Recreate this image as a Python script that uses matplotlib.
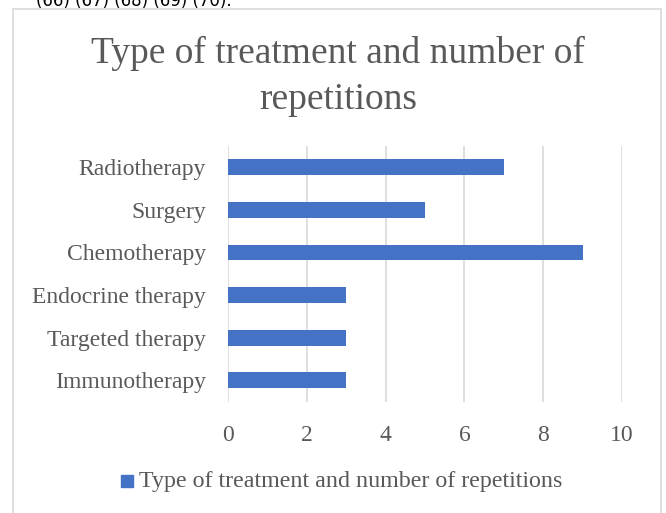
import matplotlib.pyplot as plt
from matplotlib.patches import Rectangle

# data
categories = ['Immunotherapy', 'Targeted therapy', 'Endocrine therapy',
              'Chemotherapy', 'Surgery', 'Radiotherapy']
repetitions = [3, 3, 3, 9, 5, 7]
x_ticks = [0, 2, 4, 6, 8, 10]
series_name = 'Type of treatment and number of repetitions'
title_lines = ['Type of treatment and number of', 'repetitions']

W, H = 666, 513
fig = plt.figure(figsize=(W / 100, H / 100), dpi=100)
fig.patch.set_facecolor('white')

# frame of the embedded chart
fig.add_artist(Rectangle((12.5 / W, -0.05), (661 - 12.5) / W, 1.05 - 8.5 / H,
                         transform=fig.transFigure, fill=False,
                         edgecolor='#d9d9d9', linewidth=1.2))

# cut-off text from the page above
fig.text(232 / W, 1 - 1 / H, '(66) (67) (68) (69) (70).', ha='right', va='center',
         fontsize=12, family='DejaVu Sans', color='black')

ax = fig.add_axes([228 / W, 1 - 401.5 / H, (622 - 228) / W, (401.5 - 146) / H])
ax.barh(range(len(categories)), repetitions, height=0.37, color='#4472C4', zorder=3)

ax.set_xlim(0, 10)
ax.set_ylim(-0.5, len(categories) - 0.5)
ax.set_xticks(x_ticks)
ax.set_xticklabels([str(t) for t in x_ticks])
ax.set_yticks(range(len(categories)))
ax.set_yticklabels(categories)
ax.grid(axis='x', color='#d9d9d9', linewidth=1.2, zorder=0)
for s in ax.spines.values():
    s.set_visible(False)
ax.tick_params(length=0, labelsize=17, labelcolor='#595959')
ax.tick_params(axis='x', pad=17)
ax.tick_params(axis='y', pad=16)
for lbl in ax.get_xticklabels() + ax.get_yticklabels():
    lbl.set_family('Liberation Serif')

# two-line title
fig.text(338 / W, 1 - 76.5 / H, '\n'.join(title_lines), ha='center', va='center',
         fontsize=27, family='Liberation Serif', color='#595959', linespacing=1.45)

# legend
fig.add_artist(Rectangle((121 / W, 1 - 487 / H), 12 / W, 12 / H,
                         transform=fig.transFigure, color='#4472C4'))
fig.text(139 / W, 1 - 481 / H, series_name, ha='left', va='center', fontsize=17.3,
         family='Liberation Serif', color='#595959')

fig.savefig('out.png', dpi=100)
